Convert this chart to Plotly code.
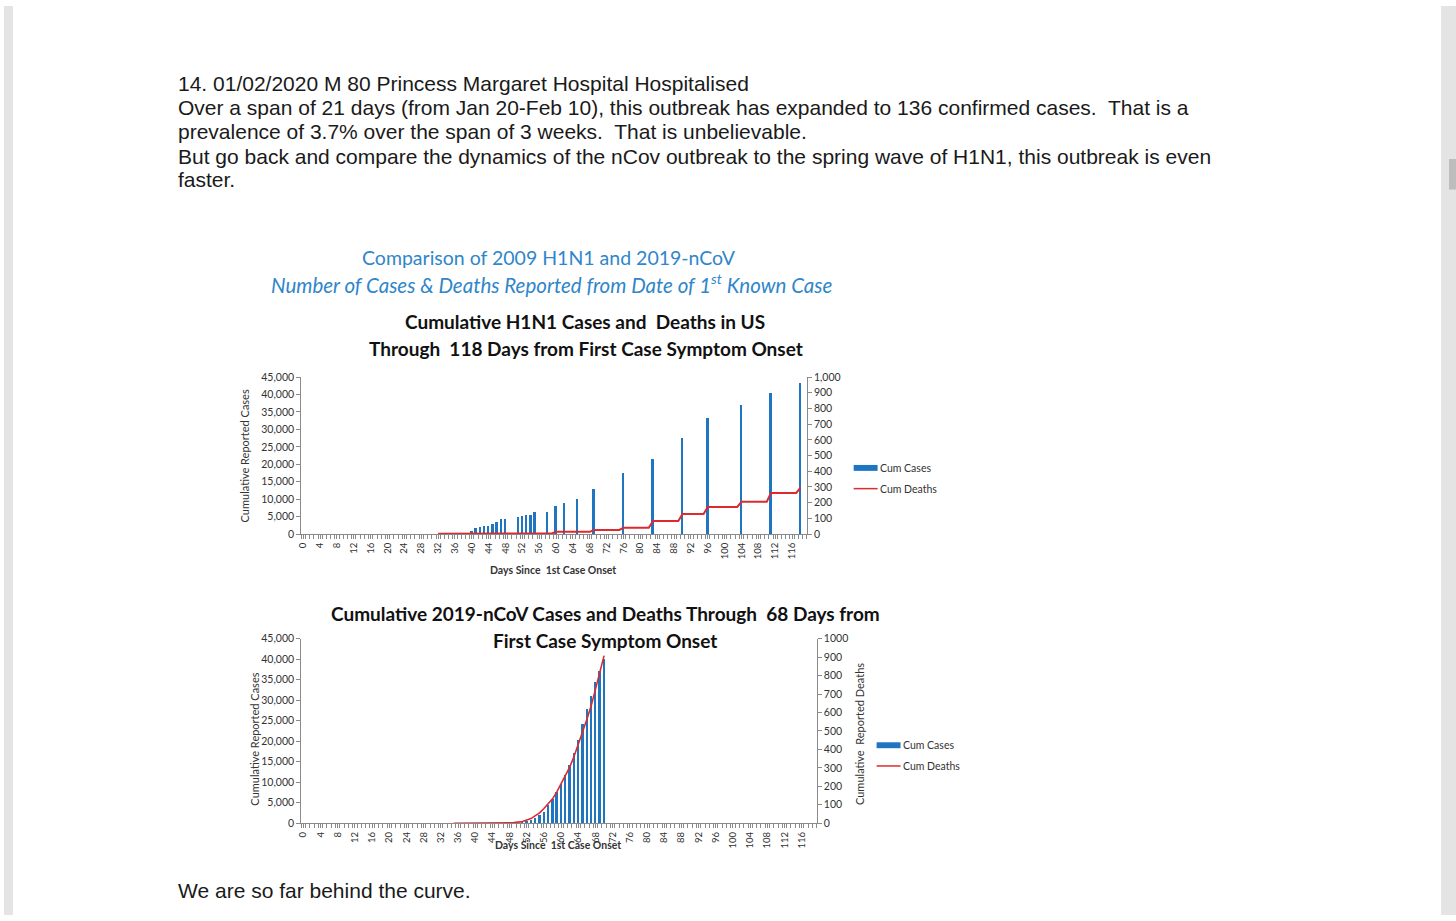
import plotly.graph_objects as go

W, H = 1456, 921


def px(x):
    return x / W


def py(y):
    return 1 - y / H


# ---------------- data ----------------
tick_days = [0, 4, 8, 12, 16, 20, 24, 28, 32, 36, 40, 44, 48, 52, 56, 60, 64, 68,
             72, 76, 80, 84, 88, 92, 96, 100, 104, 108, 112, 116]
tick_labels = [str(d) for d in tick_days]

h1n1_case_days = [40, 41, 42, 43, 44, 45, 46, 47, 48, 51, 52, 53, 54, 55, 58, 60,
                  62, 65, 69, 76, 83, 90, 96, 104, 111, 118]
h1n1_cases = [900, 1600, 2000, 2300, 2400, 2900, 3400, 4300, 4400, 4900, 5200, 5300,
              5300, 6300, 6400, 7900, 8900, 9900, 12800, 17400, 21400, 27400, 33300,
              36900, 40400, 43300]

h1n1_death_days = [32, 59, 60, 68, 69, 75, 76, 82, 83, 89, 90, 95, 96, 103, 104,
                   110, 111, 117, 118]
h1n1_deaths = [2, 4, 14, 14, 26, 26, 40, 40, 83, 83, 127, 127, 173, 173, 206, 206,
               262, 262, 296]

ncov_days = [35, 36, 37, 38, 39, 40, 41, 42, 43, 44, 45, 46, 47, 48, 49, 50, 51, 52,
             53, 54, 55, 56, 57, 58, 59, 60, 61, 62, 63, 64, 65, 66, 67, 68, 69, 70]
ncov_cases = [0, 0, 0, 0, 0, 0, 41, 41, 41, 41, 41, 45, 62, 121, 198, 291, 440, 571,
              830, 1287, 1975, 2744, 4515, 5974, 7711, 9692, 11791, 14380, 17205,
              20438, 24324, 28018, 31161, 34546, 37198, 40171]
ncov_deaths = [0, 0, 0, 0, 0, 0, 1, 1, 1, 1, 1, 2, 2, 2, 3, 6, 9, 17, 25, 41, 56, 80,
               106, 132, 170, 213, 259, 304, 361, 425, 490, 563, 636, 722, 811, 908]

# ---------------- styles ----------------
BLUE = "#1f75c0"
RED = "#dd2a2f"
AXIS = "#8a8a8a"
CHART_FONT = "Lato"
BODY_FONT = "Liberation Sans"

fig = go.Figure()

fig.add_trace(go.Bar(x=h1n1_case_days, y=h1n1_cases, width=0.45, marker_color=BLUE,
                     marker_line_width=0, xaxis="x", yaxis="y", showlegend=False))
fig.add_trace(go.Scatter(x=h1n1_death_days, y=h1n1_deaths, mode="lines",
                         line=dict(color=RED, width=2), xaxis="x", yaxis="y2",
                         showlegend=False))
fig.add_trace(go.Bar(x=ncov_days, y=ncov_cases, width=0.55, marker_color=BLUE,
                     marker_line_width=0, xaxis="x2", yaxis="y3", showlegend=False))
fig.add_trace(go.Scatter(x=ncov_days, y=ncov_deaths, mode="lines",
                         line=dict(color=RED, width=1.6), xaxis="x2", yaxis="y4",
                         showlegend=False))

tickfont = dict(family=CHART_FONT, size=10.5, color="#333")


def xaxis_cfg(x0, x1, anchor):
    return dict(domain=[px(x0), px(x1)], anchor=anchor, range=[-0.5, 119.5],
                tickmode="array", tickvals=tick_days, ticktext=tick_labels,
                tickangle=-90, tickfont=dict(family=CHART_FONT, size=9.5, color="#333"),
                ticks="outside", ticklen=4,
                tickcolor=AXIS, showline=True, linecolor=AXIS, linewidth=1,
                showgrid=False, zeroline=False,
                minor=dict(tick0=0.5, dtick=1, ticks="outside", ticklen=4,
                           tickcolor=AXIS, showgrid=False))


def yaxis_cfg(y0, y1, anchor, rng, dtick, fmt, side="left", overlay=None):
    d = dict(domain=[py(y0), py(y1)], anchor=anchor, range=rng, dtick=dtick,
             tickformat=fmt, tickfont=tickfont, ticks="outside", ticklen=4,
             tickcolor=AXIS, showline=True, linecolor=AXIS, linewidth=1,
             showgrid=False, zeroline=False, side=side)
    if overlay:
        d["overlaying"] = overlay
    return d


fig.update_layout(
    width=W, height=H, autosize=False,
    margin=dict(l=0, r=0, t=0, b=0),
    paper_bgcolor="white", plot_bgcolor="rgba(0,0,0,0)",
    bargap=0,
    xaxis=xaxis_cfg(298, 805, "y"),
    yaxis=yaxis_cfg(535, 376, "x", [0, 45000], 5000, ","),
    yaxis2=yaxis_cfg(535, 376, "x", [0, 1000], 100, ",", side="right", overlay="y"),
    xaxis2=xaxis_cfg(298, 815, "y3"),
    yaxis3=yaxis_cfg(828, 641, "x2", [0, 45000], 5000, ","),
    yaxis4=yaxis_cfg(828, 641, "x2", [0, 1000], 100, "d", side="right", overlay="y3"),
)

ann = []


def text(x, y, s, size, family=BODY_FONT, color="#1a1a1a", xanchor="left",
         angle=0, yanchor="middle"):
    ann.append(dict(x=px(x), y=py(y), xref="paper", yref="paper", text=s,
                    showarrow=False, xanchor=xanchor, yanchor=yanchor,
                    textangle=angle, font=dict(family=family, size=size, color=color)))


body = [
    (79, "14. 01/02/2020 M 80 Princess Margaret Hospital Hospitalised"),
    (103, "Over a span of 21 days (from Jan 20-Feb 10), this outbreak has expanded to 136 confirmed cases.  That is a"),
    (127, "prevalence of 3.7% over the span of 3 weeks.  That is unbelievable."),
    (152, "But go back and compare the dynamics of the nCov outbreak to the spring wave of H1N1, this outbreak is even"),
    (176, "faster."),
    (896, "We are so far behind the curve."),
]
for yy, s in body:
    text(172, yy, s, 21)

TBLUE = "#2f86c9"
text(547, 255, "Comparison of 2009 H1N1 and 2019-nCoV", 19.5, CHART_FONT, TBLUE, "center")
text(550, 281, "<i>Number of Cases &amp; Deaths Reported from Date of 1<sup>st</sup> Known Case</i>",
     20.5, CHART_FONT, TBLUE, "center")
text(583, 320, "<b>Cumulative H1N1 Cases and  Deaths in US</b>", 19, CHART_FONT, "#111", "center")
text(584, 347, "<b>Through  118 Days from First Case Symptom Onset</b>", 19, CHART_FONT, "#111", "center")
text(603, 616, "<b>Cumulative 2019-nCoV Cases and Deaths Through  68 Days from</b>", 19,
     CHART_FONT, "#111", "center")
text(603, 643, "<b>First Case Symptom Onset</b>", 19, CHART_FONT, "#111", "center")

text(241, 456, "Cumulative Reported Cases", 11, CHART_FONT, "#333", "center", -90)
text(551, 571, "<b>Days Since  1st Case Onset</b>", 10.5, CHART_FONT, "#333", "center")
text(251, 743, "Cumulative Reported Cases", 11, CHART_FONT, "#333", "center", -90)
text(858, 738, "Cumulative  Reported Deaths", 11, CHART_FONT, "#333", "center", -90)
text(556, 850, "<b>Days Since  1st Case Onset</b>", 10.5, CHART_FONT, "#333", "center")

# legends
text(876, 468, "Cum Cases", 10.5, CHART_FONT, "#333")
text(876, 489, "Cum Deaths", 10.5, CHART_FONT, "#333")
text(899, 749, "Cum Cases", 10.5, CHART_FONT, "#333")
text(899, 770, "Cum Deaths", 10.5, CHART_FONT, "#333")

shapes = [
    dict(type="rect", xref="paper", yref="paper", x0=px(852), x1=px(876), y0=py(471),
         y1=py(465), fillcolor=BLUE, line_width=0),
    dict(type="line", xref="paper", yref="paper", x0=px(852), x1=px(876), y0=py(489),
         y1=py(489), line=dict(color=RED, width=1.5)),
    dict(type="rect", xref="paper", yref="paper", x0=px(875), x1=px(899), y0=py(752),
         y1=py(746), fillcolor=BLUE, line_width=0),
    dict(type="line", xref="paper", yref="paper", x0=px(875), x1=px(899), y0=py(770),
         y1=py(770), line=dict(color=RED, width=1.5)),
    # page edges
    dict(type="rect", xref="paper", yref="paper", x0=0, x1=px(9), y0=0, y1=1,
         fillcolor="#e4e4e4", line_width=0, layer="below"),
    dict(type="rect", xref="paper", yref="paper", x0=px(1441), x1=1, y0=0, y1=1,
         fillcolor="#e4e4e4", line_width=0, layer="below"),
    dict(type="rect", xref="paper", yref="paper", x0=px(1449), x1=px(1456), y0=py(186),
         y1=py(155), fillcolor="#bdbdbd", line_width=0),
]

fig.update_layout(annotations=ann, shapes=shapes)
fig.write_html(
    "out.html",
    config={"displayModeBar": False},
    post_script=(
        "document.documentElement.style.margin='0';"
        "document.documentElement.style.padding='0';"
        "document.documentElement.style.overflow='hidden';"
        "document.documentElement.style.height='921px';"
        "document.body.style.margin='0';"
        "document.body.style.padding='0';"
        "document.body.style.overflow='hidden';"
        "document.body.style.height='921px';"
    ),
)
